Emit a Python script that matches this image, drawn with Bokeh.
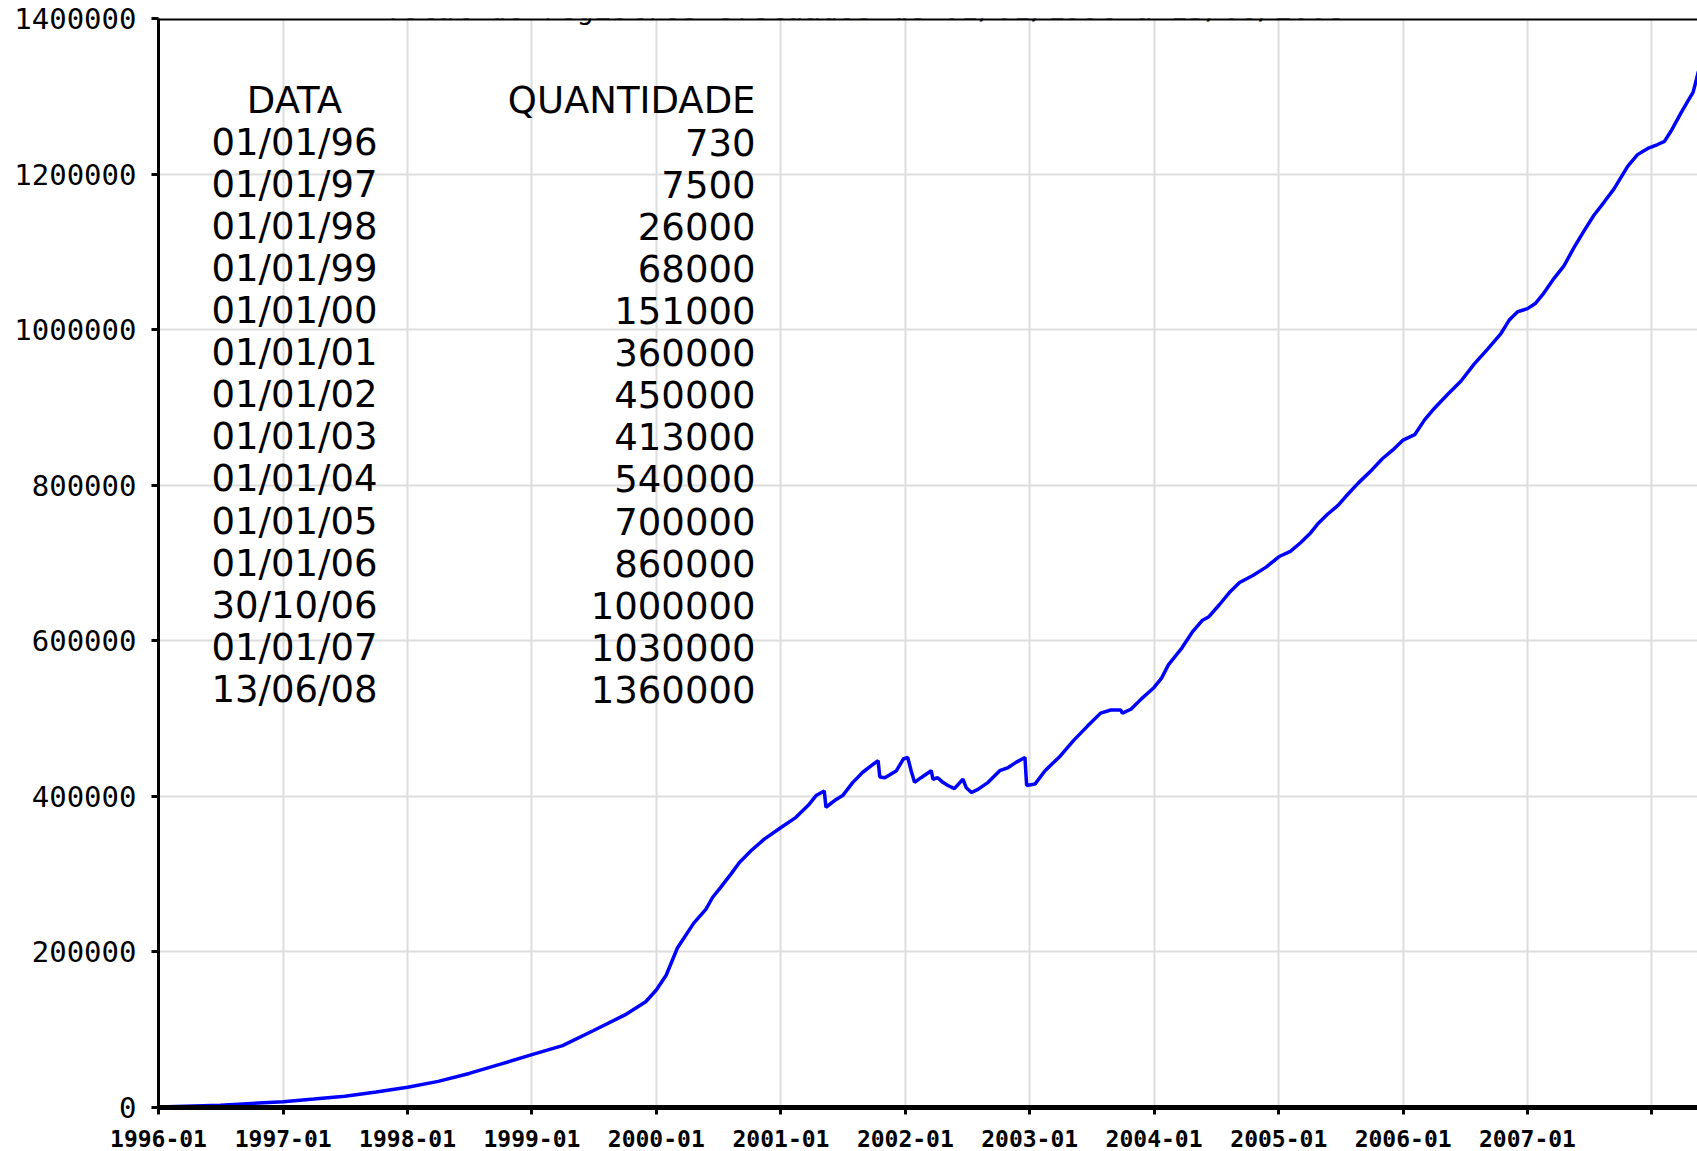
from datetime import datetime, timedelta

from bokeh.plotting import figure
from bokeh.models import (Range1d, FixedTicker, DatetimeTickFormatter,
                          NumeralTickFormatter, Span, Label, ColumnDataSource)
from bokeh.embed import file_html
from bokeh.resources import INLINE

# ---------------- data ----------------
TITLE = "Total de registros efetuados de 01/01/1996 a 13/06/2008"

series_dates = [
    "1996-01-01", "1996-07-01", "1997-01-01", "1997-04-01", "1997-07-01", "1997-10-01",
    "1998-01-01", "1998-04-01", "1998-07-01", "1998-10-01", "1999-01-01", "1999-04-01",
    "1999-07-01", "1999-10-01", "1999-12-01", "2000-01-01", "2000-01-30", "2000-03-03",
    "2000-04-20", "2000-05-26", "2000-06-14", "2000-07-08", "2000-08-07", "2000-09-01",
    "2000-10-05", "2000-11-13", "2001-01-01", "2001-02-14", "2001-03-25", "2001-04-14",
    "2001-05-08", "2001-05-13", "2001-06-12", "2001-07-01", "2001-07-31", "2001-08-29",
    "2001-09-28", "2001-10-13", "2001-10-18", "2001-11-02", "2001-12-06", "2001-12-26",
    "2002-01-08", "2002-01-18", "2002-01-28", "2002-02-16", "2002-03-18", "2002-03-23",
    "2002-04-06", "2002-04-21", "2002-05-06", "2002-05-25", "2002-06-19", "2002-06-29",
    "2002-07-14", "2002-08-02", "2002-09-01", "2002-10-05", "2002-10-30", "2002-11-23",
    "2002-12-18", "2002-12-23", "2003-01-17", "2003-02-15", "2003-04-01", "2003-05-10",
    "2003-06-19", "2003-07-28", "2003-08-27", "2003-09-25", "2003-09-30", "2003-10-25",
    "2003-11-24", "2004-01-01", "2004-01-23", "2004-02-12", "2004-03-23", "2004-04-22",
    "2004-05-21", "2004-06-10", "2004-07-10", "2004-08-09", "2004-09-08", "2004-10-17",
    "2004-11-26", "2005-01-01", "2005-02-04", "2005-03-06", "2005-04-05", "2005-04-25",
    "2005-05-25", "2005-06-24", "2005-07-24", "2005-08-23", "2005-10-02", "2005-11-01",
    "2005-12-01", "2006-01-01", "2006-02-04", "2006-03-05", "2006-04-03", "2006-05-12",
    "2006-06-20", "2006-07-29", "2006-09-06", "2006-10-15", "2006-11-08", "2006-12-03",
    "2007-01-01", "2007-01-25", "2007-02-18", "2007-03-20", "2007-04-18", "2007-05-17",
    "2007-06-16", "2007-07-15", "2007-08-14", "2007-09-12", "2007-10-22", "2007-11-20",
    "2007-12-20", "2008-01-18", "2008-02-07", "2008-02-26", "2008-03-27", "2008-04-16",
    "2008-05-01", "2008-05-11", "2008-05-16", "2008-06-13",
]
series_values = [
    730, 3000, 7500, 10800, 14500, 20000,
    26000, 33600, 43800, 55700, 68000, 79600,
    99000, 119000, 136000, 151000, 170000, 205000,
    237000, 255000, 270000, 283000, 300000, 315000,
    330000, 345000, 360000, 373000, 390000, 401000,
    407000, 386000, 396000, 401000, 418000, 431000,
    441000, 446000, 425000, 424000, 433000, 448000,
    450000, 433000, 418000, 424000, 433000, 422000,
    424000, 418000, 414000, 410000, 422000, 411000,
    405000, 409000, 418000, 433000, 437000, 444000,
    450000, 414000, 416000, 433000, 452000, 472000,
    490000, 507000, 511000, 511000, 507000, 512000,
    525000, 540000, 552000, 569000, 591000, 611000,
    626000, 631000, 646000, 662000, 675000, 684000,
    695000, 708000, 715000, 726000, 739000, 750000,
    763000, 774000, 789000, 803000, 820000, 834000,
    845000, 858000, 865000, 884000, 899000, 917000,
    934000, 956000, 975000, 995000, 1012000, 1023000,
    1027000, 1034000, 1047000, 1066000, 1082000, 1105000,
    1127000, 1147000, 1164000, 1181000, 1210000, 1225000,
    1233000, 1238000, 1242000, 1255000, 1279000, 1294000,
    1305000, 1322000, 1331000, 1360000,
]

table_header = ["DATA", "QUANTIDADE"]
table_dates = ["01/01/96", "01/01/97", "01/01/98", "01/01/99", "01/01/00", "01/01/01",
               "01/01/02", "01/01/03", "01/01/04", "01/01/05", "01/01/06", "30/10/06",
               "01/01/07", "13/06/08"]
table_quantities = ["730", "7500", "26000", "68000", "151000", "360000", "450000",
                    "413000", "540000", "700000", "860000", "1000000", "1030000", "1360000"]

y_ticks = [0, 200000, 400000, 600000, 800000, 1000000, 1200000, 1400000]
x_tick_years = list(range(1996, 2009))
x_unlabeled_years = [2008]

# ---------------- helpers ----------------
EPOCH = datetime(1970, 1, 1)


def to_ms(d):
    return (d - EPOCH).total_seconds() * 1000.0


x_dates = [datetime.strptime(s, "%Y-%m-%d") for s in series_dates]
src = ColumnDataSource(data=dict(x=x_dates, y=series_values))

X_START = datetime(1996, 1, 1)
X_END = X_START + timedelta(days=4517)
Y_MAX = 1400000

W, H = 1697, 1151
p = figure(width=W, height=H, x_axis_type="datetime", output_backend="svg",
           toolbar_location=None,
           x_range=Range1d(X_START, X_END), y_range=Range1d(0, Y_MAX),
           min_border_left=158, min_border_right=0, min_border_top=18,
           min_border_bottom=44)
p.background_fill_color = "white"
p.border_fill_color = "white"
p.outline_line_color = None

# x axis
x_ticks = [to_ms(datetime(y, 1, 1)) for y in x_tick_years]
xt = FixedTicker(ticks=x_ticks)
p.xaxis.ticker = xt
p.xgrid.ticker = xt
fmt = "%Y-%m"
p.xaxis.formatter = DatetimeTickFormatter(years=fmt, months=fmt, days=fmt, hours=fmt,
                                          hourmin=fmt, minutes=fmt, minsec=fmt,
                                          seconds=fmt, milliseconds=fmt,
                                          microseconds=fmt)
p.xaxis.major_label_overrides = {to_ms(datetime(y, 1, 1)): "" for y in x_unlabeled_years}
p.xaxis.axis_line_color = "black"
p.xaxis.axis_line_width = 5
p.xaxis.major_tick_line_color = "black"
p.xaxis.major_tick_line_width = 3
p.xaxis.major_tick_out = 7
p.xaxis.major_tick_in = 0
p.xaxis.minor_tick_out = 0
p.xaxis.minor_tick_in = 0
p.xaxis.major_label_text_font = "DejaVu Sans Mono"
p.xaxis.major_label_text_font_style = "bold"
p.xaxis.major_label_text_font_size = "23px"
p.xaxis.major_label_text_color = "black"
p.xaxis.major_label_text_line_height = 0.8
p.xaxis.major_label_standoff = 15

# y axis
yt = FixedTicker(ticks=y_ticks)
p.yaxis.ticker = yt
p.ygrid.ticker = yt
p.yaxis.formatter = NumeralTickFormatter(format="0")
p.yaxis.axis_line_color = "black"
p.yaxis.axis_line_width = 3
p.yaxis.major_tick_line_color = "black"
p.yaxis.major_tick_line_width = 3
p.yaxis.major_tick_out = 7
p.yaxis.major_tick_in = 0
p.yaxis.minor_tick_out = 0
p.yaxis.minor_tick_in = 0
p.yaxis.major_label_text_font = "DejaVu Sans Mono"
p.yaxis.major_label_text_font_size = "29px"
p.yaxis.major_label_text_color = "black"
p.yaxis.major_label_standoff = 15

for g in (p.xgrid, p.ygrid):
    g.grid_line_color = "#dddddd"
    g.grid_line_width = 2

# top border
p.add_layout(Span(location=Y_MAX, dimension="width", line_color="black", line_width=4))

# series
p.line("x", "y", source=src, line_color="#0000ff", line_width=3.5)

# table (screen units relative to frame: x from left, y from bottom)
TABLE_FONT = "DejaVu Sans"
TABLE_SIZE = "37px"
DATE_X = 136
QTY_X = 597
ROW0_Y = 1007
ROW_STEP = 42.05

p.add_layout(Label(x=DATE_X, y=ROW0_Y, x_units="screen", y_units="screen",
                   text=table_header[0], text_font=TABLE_FONT, text_font_size=TABLE_SIZE,
                   text_align="center", text_baseline="middle", text_color="black"))
p.add_layout(Label(x=QTY_X, y=ROW0_Y, x_units="screen", y_units="screen",
                   text=table_header[1], text_font=TABLE_FONT, text_font_size=TABLE_SIZE,
                   text_align="right", text_baseline="middle", text_color="black"))
for i, (d, q) in enumerate(zip(table_dates, table_quantities)):
    yy = ROW0_Y - ROW_STEP * (i + 1)
    p.add_layout(Label(x=DATE_X, y=yy, x_units="screen", y_units="screen", text=d,
                       text_font=TABLE_FONT, text_font_size=TABLE_SIZE,
                       text_align="center", text_baseline="middle", text_color="black"))
    p.add_layout(Label(x=QTY_X, y=yy, x_units="screen", y_units="screen", text=q,
                       text_font=TABLE_FONT, text_font_size=TABLE_SIZE,
                       text_align="right", text_baseline="middle", text_color="black"))

# title (its upper part lies above the page, as in the original)
p.add_layout(Label(x=706, y=1099, x_units="screen", y_units="screen", text=TITLE,
                   text_font="DejaVu Sans Mono", text_font_size="29px",
                   text_align="center", text_baseline="alphabetic", text_color="black"))

open("out.html", "w").write(file_html(p, INLINE))
